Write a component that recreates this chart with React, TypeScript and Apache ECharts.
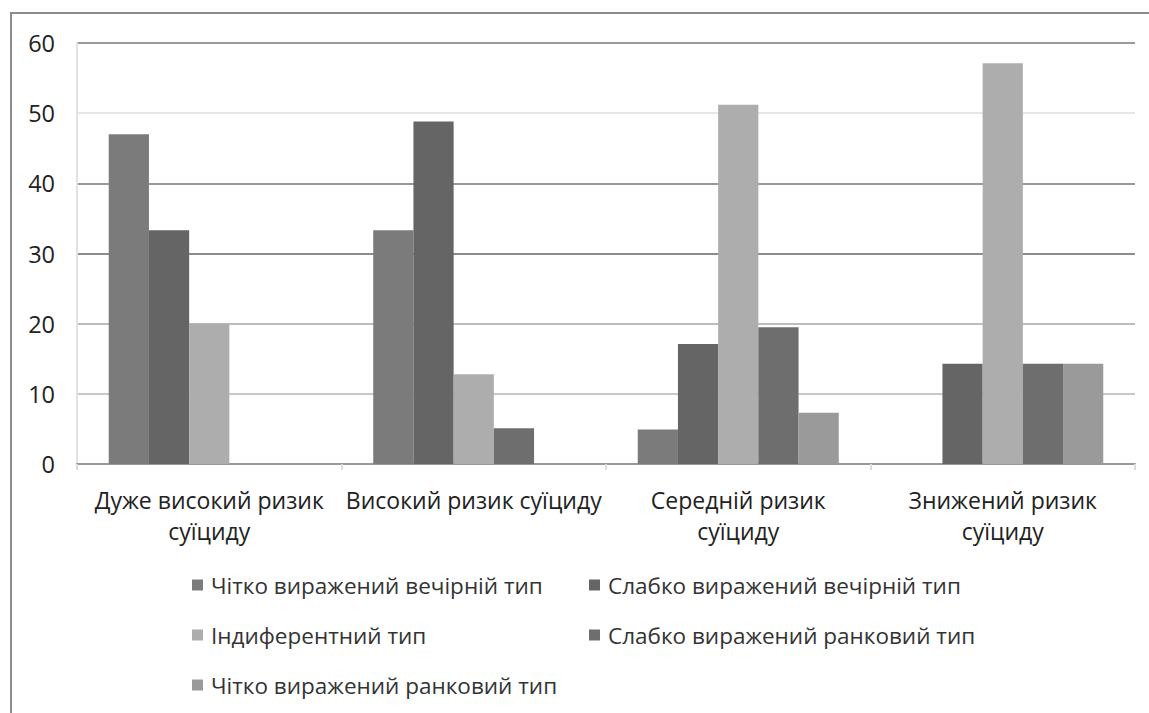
import React, { useEffect, useRef } from "react";
import * as echarts from "echarts";

const categories = [
  "Дуже високий ризик\nсуїциду",
  "Високий ризик суїциду",
  "Середній ризик\nсуїциду",
  "Знижений ризик\nсуїциду",
];

const seriesNames = [
  "Чітко виражений вечірній тип",
  "Слабко виражений вечірній тип",
  "Індиферентний тип",
  "Слабко виражений ранковий тип",
  "Чітко виражений ранковий тип",
];

const clearEvening = [47.0, 33.3, 4.9, 0];
const weakEvening = [33.3, 48.8, 17.1, 14.3];
const indifferent = [20.0, 12.8, 51.2, 57.1];
const weakMorning = [0, 5.1, 19.5, 14.3];
const clearMorning = [0, 0, 7.3, 14.3];

const seriesValues = [clearEvening, weakEvening, indifferent, weakMorning, clearMorning];
const seriesColors = ["#7b7b7b", "#656565", "#adadad", "#6e6e6e", "#9a9a9a"];

const yMin = 0;
const yMax = 60;
const yStep = 10;

export default function App() {
  const ref = useRef<HTMLDivElement>(null);

  useEffect(() => {
    if (!ref.current) return;
    const chart = echarts.init(ref.current, undefined, { renderer: "svg" });
    const font = "'Open Sans', 'DejaVu Sans', sans-serif";
    const legendText = {
      fontSize: 22.5,
      color: "#333",
      lineHeight: 30,
      fontFamily: font,
      padding: [0, 0, 0, 3],
    };
    chart.setOption({
      animation: false,
      backgroundColor: "#ffffff",
      textStyle: { fontFamily: font },
      graphic: [
        {
          type: "rect",
          shape: { x: 11, y: 13, width: 1300, height: 900 },
          style: { fill: "none", stroke: "#8c8c8c", lineWidth: 2 },
          silent: true,
        },
      ],
      grid: { left: 77, right: 14, top: 43, bottom: 249 },
      legend: [
        {
          orient: "vertical",
          left: 192,
          top: 570,
          padding: 0,
          data: [seriesNames[0], seriesNames[2], seriesNames[4]],
          icon: "rect",
          itemWidth: 11,
          itemHeight: 11,
          itemGap: 20,
          textStyle: legendText,
        },
        {
          orient: "vertical",
          left: 589,
          top: 570,
          padding: 0,
          data: [seriesNames[1], seriesNames[3]],
          icon: "rect",
          itemWidth: 11,
          itemHeight: 11,
          itemGap: 20,
          textStyle: legendText,
        },
      ],
      xAxis: {
        type: "category",
        data: categories,
        axisLine: { show: true, lineStyle: { color: "#999", width: 2 } },
        axisTick: { show: true, length: 6, lineStyle: { color: "#dcdcdc", width: 2 } },
        axisLabel: {
          interval: 0,
          fontSize: 23,
          lineHeight: 31,
          color: "#222",
          margin: 20,
          fontFamily: font,
        },
      },
      yAxis: {
        type: "value",
        min: yMin,
        max: yMax,
        interval: yStep,
        axisLine: { show: true, lineStyle: { color: "#e2e2e2", width: 2 } },
        axisTick: { show: false },
        axisLabel: { fontSize: 23.5, color: "#222", margin: 22, fontFamily: font },
        splitLine: {
          show: true,
          lineStyle: {
            width: 2,
            color: ["#999999", "#c8c8c8", "#bdbdbd", "#8c8c8c", "#999999", "#e6e6e6", "#9a9a9a"],
          },
        },
      },
      series: seriesNames.map((name, i) => ({
        name,
        type: "bar",
        data: seriesValues[i],
        barGap: "0%",
        barCategoryGap: "24%",
        itemStyle: { color: seriesColors[i] },
      })),
    });
    return () => chart.dispose();
  }, []);

  return (
    <div
      ref={ref}
      style={{ position: "absolute", left: 0, top: 0, width: 1149, height: 713 }}
    />
  );
}
